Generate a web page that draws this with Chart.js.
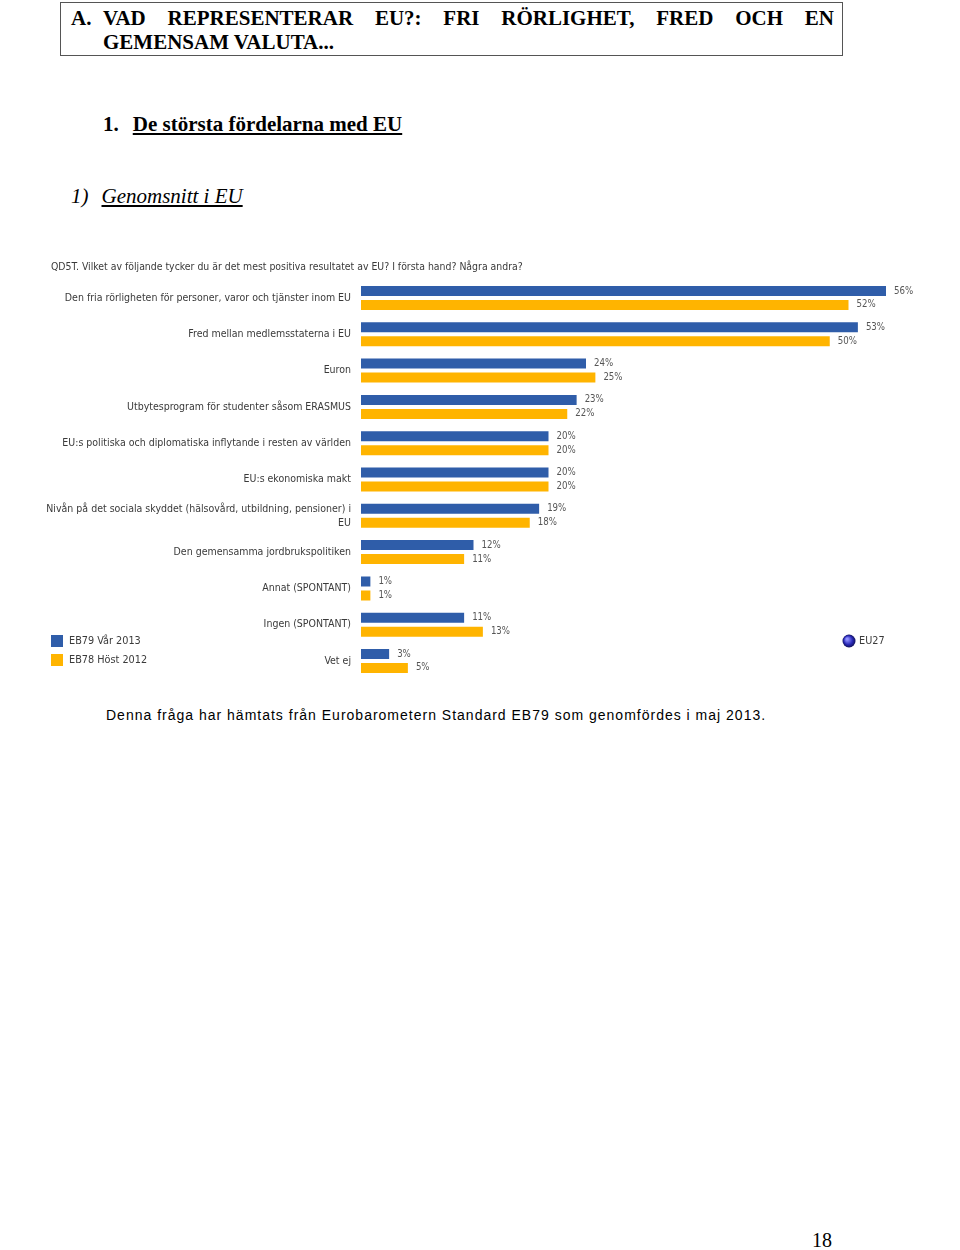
<!DOCTYPE html>
<html>
<head>
<meta charset="utf-8">
<script src="https://cdn.jsdelivr.net/npm/chart.js@4/dist/chart.umd.min.js"></script>
<style>
  html, body { margin: 0; padding: 0; background: #fff; }
  body { width: 960px; height: 1250px; position: relative; overflow: hidden; }
  .hdr { position: absolute; left: 60px; top: 2px; width: 781px; height: 52px; border: 1px solid #555; font-family: 'Liberation Serif', 'Times New Roman', serif; font-weight: bold; font-size: 21px; color: #000; }
  .hdr .num { position: absolute; left: 10px; top: 3px; }
  .hdr .l1 { position: absolute; left: 42px; width: 731px; top: 3px; text-align: justify; text-align-last: justify; white-space: nowrap; }
  .hdr .l2 { position: absolute; left: 42px; top: 27px; }
  .h1 { position: absolute; left: 103px; top: 112px; font-family: 'Liberation Serif', serif; font-weight: bold; font-size: 21px; }
  .h1 u { margin-left: 14px; }
  .h2 { position: absolute; left: 71px; top: 184px; font-family: 'Liberation Serif', serif; font-style: italic; font-size: 21px; }
  .h2 u { margin-left: 13px; }
  .foot { position: absolute; left: 106px; top: 707px; font-family: 'Liberation Sans', Arial, sans-serif; font-size: 14px; letter-spacing: 1px; color: #000; }
  .page { position: absolute; left: 812px; top: 1229px; font-family: 'Liberation Serif', serif; font-size: 20px; }
  #wrap { position: absolute; left: 0; top: 240px; width: 960px; height: 460px; }
</style>
</head>
<body>
<div class="hdr">
  <span class="num">A.</span>
  <div class="l1">VAD REPRESENTERAR EU?: FRI RÖRLIGHET, FRED OCH EN</div>
  <div class="l2">GEMENSAM VALUTA...</div>
</div>
<div class="h1">1.<u>De största fördelarna med EU</u></div>
<div class="h2">1)<u>Genomsnitt i EU</u></div>
<div id="wrap"><canvas id="c" width="960" height="460"></canvas></div>
<div class="foot">Denna fråga har hämtats från Eurobarometern Standard EB79 som genomfördes i maj 2013.</div>
<div class="page">18</div>
<script>
const questionTitle = 'QD5T. Vilket av följande tycker du är det mest positiva resultatet av EU? I första hand? Några andra?';
const categories = [
  'Den fria rörligheten för personer, varor och tjänster inom EU',
  'Fred mellan medlemsstaterna i EU',
  'Euron',
  'Utbytesprogram för studenter såsom ERASMUS',
  'EU:s politiska och diplomatiska inflytande i resten av världen',
  'EU:s ekonomiska makt',
  ['Nivån på det sociala skyddet (hälsovård, utbildning, pensioner) i', 'EU'],
  'Den gemensamma jordbrukspolitiken',
  'Annat (SPONTANT)',
  'Ingen (SPONTANT)',
  'Vet ej'
];
const seriesNames = ['EB79 Vår 2013', 'EB78 Höst 2012'];
const eb79Spring2013 = [56, 53, 24, 23, 20, 20, 19, 12, 1, 11, 3];
const eb78Autumn2012 = [52, 50, 25, 22, 20, 20, 18, 11, 1, 13, 5];
const regionLabel = 'EU27';

const FONT = "'DejaVu Sans Condensed', 'Liberation Sans', sans-serif";
const BLUE = '#2f5da9';
const YELLOW = '#ffb400';

const questionText = {
  id: 'questionText',
  afterDraw(chart) {
    const ctx = chart.ctx;
    ctx.save();
    ctx.font = '10.4px ' + FONT;
    ctx.fillStyle = '#3a3a3a';
    ctx.textBaseline = 'middle';
    ctx.textAlign = 'left';
    ctx.fillText(questionTitle, 51, 27);
    ctx.restore();
  }
};

const valueLabels = {
  id: 'valueLabels',
  afterDatasetsDraw(chart) {
    const ctx = chart.ctx;
    ctx.save();
    ctx.font = '9.6px ' + FONT;
    ctx.fillStyle = '#555';
    ctx.textBaseline = 'middle';
    ctx.textAlign = 'left';
    chart.data.datasets.forEach((ds, i) => {
      const meta = chart.getDatasetMeta(i);
      meta.data.forEach((bar, j) => {
        ctx.fillText(ds.data[j] + '%', bar.x + 8, bar.y);
      });
    });
    ctx.restore();
  }
};

const customLegend = {
  id: 'customLegend',
  afterDraw(chart) {
    const ctx = chart.ctx;
    ctx.save();
    ctx.font = '10.8px ' + FONT;
    ctx.textBaseline = 'middle';
    ctx.textAlign = 'left';
    chart.data.datasets.forEach((ds, i) => {
      const y = 401 + i * 19;
      ctx.fillStyle = ds.backgroundColor;
      ctx.fillRect(51, y - 6, 12, 12);
      ctx.fillStyle = '#3a3a3a';
      ctx.fillText(ds.label, 69, y);
    });
    const cx = 849, cy = 401, r = 6.5;
    const g = ctx.createRadialGradient(cx - 2, cy - 2, 1, cx, cy, r);
    g.addColorStop(0, '#8f8fff');
    g.addColorStop(0.6, '#2a2ab8');
    g.addColorStop(1, '#10105a');
    ctx.fillStyle = g;
    ctx.beginPath();
    ctx.arc(cx, cy, r, 0, Math.PI * 2);
    ctx.fill();
    ctx.fillStyle = '#3a3a3a';
    ctx.fillText(regionLabel, 859, cy);
    ctx.restore();
  }
};

new Chart(document.getElementById('c'), {
  type: 'bar',
  data: {
    labels: categories,
    datasets: [
      { label: seriesNames[0], data: eb79Spring2013, backgroundColor: BLUE },
      { label: seriesNames[1], data: eb78Autumn2012, backgroundColor: YELLOW }
    ]
  },
  options: {
    indexAxis: 'y',
    responsive: false,
    animation: false,
    datasets: { bar: { categoryPercentage: 0.77, barPercentage: 0.714 } },
    layout: { padding: { left: 20, right: 36.5, top: 39.85, bottom: 20.85 } },
    scales: {
      x: { display: false, min: 0, max: 60 },
      y: {
        grid: { display: false, drawTicks: false },
        border: { display: false },
        ticks: { color: '#3a3a3a', font: { family: FONT, size: 10.5, lineHeight: 1.33 }, padding: 10, autoSkip: false },
        afterFit(scale) { scale.width = 341; }
      }
    },
    plugins: {
      legend: { display: false },
      tooltip: { enabled: false },
      title: { display: false }
    }
  },
  plugins: [questionText, valueLabels, customLegend]
});
</script>
</body>
</html>
